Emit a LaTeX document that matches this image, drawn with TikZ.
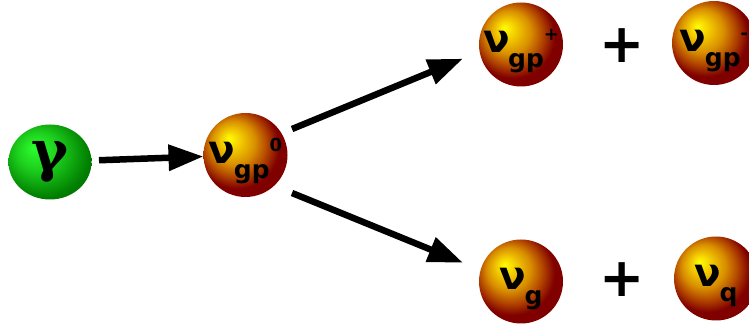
\documentclass[tikz,border=0pt]{standalone}
\usepackage{fontspec}
\setmainfont{DejaVu Sans}
\newfontfamily\gammafont{DejaVu Serif}
\usetikzlibrary{arrows.meta,shapes.geometric}
\definecolor{goldhi}{RGB}{255,255,0}
\definecolor{goldup}{RGB}{245,210,0}
\definecolor{goldmid}{RGB}{216,142,0}
\definecolor{goldlow}{RGB}{178,70,0}
\definecolor{maroon}{RGB}{128,0,0}
\definecolor{greenhi}{RGB}{45,255,45}
\definecolor{greenmid}{RGB}{28,205,28}
\definecolor{greenlow}{RGB}{0,125,0}
\pgfdeclareradialshading{goldball}{\pgfpoint{-10bp}{10bp}}{color(0bp)=(goldhi); color(5bp)=(goldup); color(13bp)=(goldmid); color(19bp)=(goldlow); color(25bp)=(maroon); color(50bp)=(maroon)}
\pgfdeclareradialshading{greenball}{\pgfpoint{-10bp}{10bp}}{color(0bp)=(greenhi); color(13bp)=(greenmid); color(28bp)=(greenlow); color(50bp)=(greenlow)}
% Teilchenname: nu mit tiefgestelltem und hochgestelltem Index nacheinander
\newcommand{\nulab}[2]{\makebox[0pt]{\fontsize{39}{39}\selectfont ν\kern-1.5pt\raisebox{-15pt}{\fontsize{25}{25}\selectfont #1}\raisebox{12pt}{\fontsize{18}{18}\selectfont #2}}}

\begin{document}
\begin{tikzpicture}[x=1pt,y=1pt,
  ball/.style={circle,shading=goldball,minimum size=84pt,inner sep=0pt,outer sep=0pt,
    text height=32pt,text depth=15pt,font=\bfseries},
  reaction/.style={line width=6.5pt,-{Triangle[length=35pt,width=25pt]}}]
  \useasboundingbox (0,0) rectangle (749,326);
  % Photon
  \node[ellipse,shading=greenball,minimum width=83pt,minimum height=75pt,inner sep=0pt,outer sep=0pt,
    font=\gammafont\bfseries\fontsize{56}{56}\selectfont] (gamma) at (50,164) {γ};
  % Zwischenzustand
  \node[ball] (nu0) at (245.5,171) {\nulab{gp}{0}};
  % Endzustaende (oben: gp+ und gp-, unten: g und q)
  \foreach \name/\pos/\sub/\sup in {nup/{(521,281.5)}/gp/+, num/{(714,283)}/gp/-,
    nug/{(521,44.5)}/g/{}, nuq/{(716,47.5)}/q/{}}{
    \node[ball] (\name) at \pos {\nulab{\sub}{\sup}};
  }
  \node[font=\bfseries\fontsize{54}{54}\selectfont] (plusa) at (622,280) {+};
  \node[font=\bfseries\fontsize{54}{54}\selectfont] (plusb) at (622,46) {+};
  % Pfeile
  \draw[reaction,shorten <=7.5pt] (gamma) -- (nu0);
  \draw[reaction,shorten <=11.4pt,shorten >=18pt] (nu0.31) -- (nup.190);
  \draw[reaction,shorten <=19.3pt,shorten >=19pt] (nu0.-47) -- (nug.164);
\end{tikzpicture}
\end{document}
